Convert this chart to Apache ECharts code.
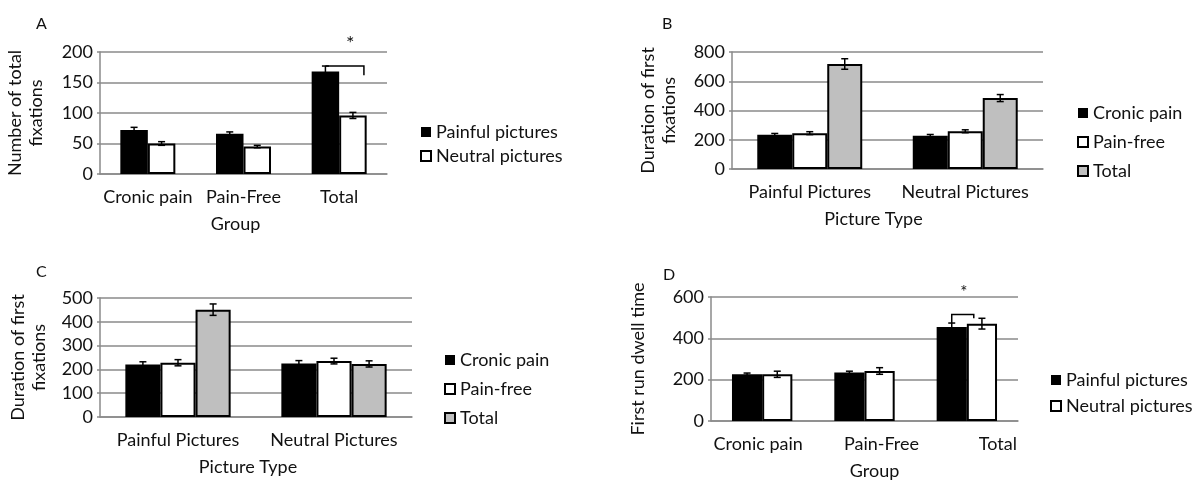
<!DOCTYPE html>
<html>
<head>
<meta charset="utf-8">
<script src="https://cdn.jsdelivr.net/npm/echarts/dist/echarts.min.js"></script>
<style>
  html, body { margin: 0; padding: 0; background: #fff; }
  #main { width: 1204px; height: 481px; }
</style>
</head>
<body>
<div id="main"></div>
<script>
// categories
var groupCats = ['Cronic pain', 'Pain-Free', 'Total'];
var pictureCats = ['Painful Pictures', 'Neutral Pictures'];

// A - number of total fixations
var aPainful = [72, 66, 168];
var aPainfulErr = [4.5, 3, 9];
var aNeutral = [50, 45, 96];
var aNeutralErr = [3, 2, 5];
var aBracket = [2, 177, 177, 162]; // category, top, left end, right end

// B - duration of first fixations
var bCronic = [235, 228];
var bCronicErr = [8, 8];
var bPainFree = [245, 258];
var bPainFreeErr = [10, 10];
var bTotal = [718, 485];
var bTotalErr = [36, 24];

// C - duration of first fixations
var cCronic = [221, 225];
var cCronicErr = [11, 12];
var cPainFree = [228, 235];
var cPainFreeErr = [13, 12];
var cTotal = [451, 223];
var cTotalErr = [24, 13];

// D - first run dwell time
var dPainful = [226, 235, 455];
var dPainfulErr = [6, 6, 19];
var dNeutral = [226, 242, 471];
var dNeutralErr = [15, 16, 26];
var dBracket = [2, 515, 474, 497];

var FONT = 'Lato';
var TXT = '#111';
var GRID_C = '#8a8a8a';

// bar gap per panel (fraction of category band)
var gaps = [0.425, 0.325, 0.325, 0.41];

var chart = echarts.init(document.getElementById('main'));

function xAxisOf(idx, cats, name, namePad, shifts) {
  var data = cats.map(function (c, i) {
    if (!shifts || !shifts[i]) return c;
    var s = shifts[i];
    return { value: c, textStyle: { padding: s > 0 ? [0, 0, 0, 2 * s] : [0, -2 * s, 0, 0] } };
  });
  return {
    type: 'category', gridIndex: idx, data: data,
    axisLine: { lineStyle: { color: GRID_C, width: 1.5 } },
    axisTick: { length: 5, lineStyle: { color: GRID_C, width: 1.5 } },
    axisLabel: { fontFamily: FONT, fontSize: 18, color: TXT, margin: 14, interval: 0 },
    name: name, nameLocation: 'middle', nameGap: 41,
    nameTextStyle: { fontFamily: FONT, fontSize: 18, color: TXT, padding: namePad }
  };
}

function yAxisOf(idx, max, step, name, gap) {
  return {
    type: 'value', gridIndex: idx, min: 0, max: max, interval: step,
    axisLine: { show: true, lineStyle: { color: GRID_C, width: 1.5 } },
    axisTick: { show: true, length: 3, lineStyle: { color: GRID_C, width: 1.5 } },
    splitLine: { lineStyle: { color: GRID_C, width: 1.5 } },
    axisLabel: { fontFamily: FONT, fontSize: 18, color: TXT, margin: 7 },
    name: name, nameLocation: 'middle', nameGap: gap,
    nameTextStyle: { fontFamily: FONT, fontSize: 18, color: TXT, lineHeight: 21 }
  };
}

function barOf(idx, name, vals, fill) {
  return {
    type: 'bar', name: name, xAxisIndex: idx, yAxisIndex: idx,
    data: vals, barGap: '0%', barCategoryGap: (gaps[idx] * 100) + '%',
    itemStyle: { color: fill, borderColor: '#000', borderWidth: fill === '#000' ? 0 : 2 }
  };
}

// error bars drawn on top of bar k of n
function errOf(idx, vals, errs, k, n) {
  return {
    type: 'custom', xAxisIndex: idx, yAxisIndex: idx, silent: true, z: 5,
    data: vals.map(function (v, i) { return [i, v, errs[i]]; }),
    renderItem: function (params, api) {
      var band = api.size([1, 0])[0];
      var bw = band * (1 - gaps[idx]) / n;
      var c = api.coord([api.value(0), api.value(1)]);
      var x = c[0] - n * bw / 2 + bw * (k + 0.5);
      var hi = api.coord([api.value(0), api.value(1) + api.value(2)])[1];
      var lo = api.coord([api.value(0), api.value(1) - api.value(2)])[1];
      var st = { stroke: '#000', lineWidth: 1.5 };
      return {
        type: 'group', children: [
          { type: 'line', shape: { x1: x, y1: hi, x2: x, y2: lo }, style: st },
          { type: 'line', shape: { x1: x - 3.5, y1: hi, x2: x + 3.5, y2: hi }, style: st },
          { type: 'line', shape: { x1: x - 3.5, y1: lo, x2: x + 3.5, y2: lo }, style: st }
        ]
      };
    }
  };
}

// significance bracket + star; offs = [left, right] in bar widths from bar centres, then star x shift, star size
function bracketOf(idx, br, offs) {
  return {
    type: 'custom', xAxisIndex: idx, yAxisIndex: idx, silent: true, z: 6,
    data: [br],
    renderItem: function (params, api) {
      var band = api.size([1, 0])[0];
      var bw = band * (1 - gaps[idx]) / 2;
      var c = api.coord([api.value(0), api.value(1)]);
      var yL = api.coord([api.value(0), api.value(2)])[1];
      var yR = api.coord([api.value(0), api.value(3)])[1];
      var xL = c[0] - bw / 2 + offs[0] * bw;
      var xR = c[0] + bw / 2 + offs[1] * bw;
      return {
        type: 'group', children: [
          { type: 'polyline', shape: { points: [[xL, yL], [xL, c[1]], [xR, c[1]], [xR, yR]] },
            style: { stroke: '#000', fill: null, lineWidth: 1.5 } },
          { type: 'text', x: c[0] + offs[2], y: c[1] - 22,
            style: { text: '*', fill: TXT, font: offs[3] + 'px ' + FONT, align: 'center', verticalAlign: 'middle' } }
        ]
      };
    }
  };
}

function legendOf(names, left, top, gap) {
  return {
    data: names, orient: 'vertical', left: left, top: top, itemGap: gap,
    icon: 'rect', itemWidth: 10, itemHeight: 10, selectedMode: false,
    textStyle: { fontFamily: FONT, fontSize: 18, color: TXT }
  };
}

var letter = { fontFamily: FONT, fontSize: 16, fontWeight: 'normal', color: TXT };

var option = {
  animation: false,
  title: [
    { text: 'A', left: 31, top: 11, textStyle: letter },
    { text: 'B', left: 657, top: 11, textStyle: letter },
    { text: 'C', left: 31, top: 259, textStyle: letter },
    { text: 'D', left: 658, top: 262, textStyle: letter }
  ],
  legend: [
    legendOf(['Painful pictures', 'Neutral pictures'], 415, 118, 6),
    legendOf(['Cronic pain', 'Pain-free', 'Total'], 1072, 99, 11),
    legendOf(['Cronic pain', 'Pain-free', 'Total'], 439, 346, 11),
    legendOf(['Painful pictures', 'Neutral pictures'], 1045, 366, 8)
  ],
  grid: [
    { left: 100, right: 817, top: 52, bottom: 307 },
    { left: 732, right: 161, top: 52, bottom: 312 },
    { left: 100, right: 792, top: 298, bottom: 64 },
    { left: 711, right: 186, top: 297, bottom: 60 }
  ],
  xAxis: [
    xAxisOf(0, groupCats, 'Group', [0, 16, 0, 0]),
    xAxisOf(1, pictureCats, 'Picture Type', [0, 28, 0, 0]),
    xAxisOf(2, pictureCats, 'Picture Type', [0, 16, 0, 0]),
    xAxisOf(3, groupCats, 'Group', [0, 0, 0, 20], [-4, 17, 31])
  ],
  yAxis: [
    yAxisOf(0, 200, 50, 'Number of total\nfixations', 53),
    yAxisOf(1, 800, 200, 'Duration of first\nfixations', 52),
    yAxisOf(2, 500, 100, 'Duration of first\nfixations', 50),
    yAxisOf(3, 600, 200, 'First run dwell time', 62)
  ],
  series: [
    barOf(0, 'Painful pictures', aPainful, '#000'),
    barOf(0, 'Neutral pictures', aNeutral, '#fff'),
    errOf(0, aPainful, aPainfulErr, 0, 2),
    errOf(0, aNeutral, aNeutralErr, 1, 2),
    bracketOf(0, aBracket, [0, 0.4, 11, 20]),

    barOf(1, 'Cronic pain', bCronic, '#000'),
    barOf(1, 'Pain-free', bPainFree, '#fff'),
    barOf(1, 'Total', bTotal, '#bfbfbf'),
    errOf(1, bCronic, bCronicErr, 0, 3),
    errOf(1, bPainFree, bPainFreeErr, 1, 3),
    errOf(1, bTotal, bTotalErr, 2, 3),

    barOf(2, 'Cronic pain', cCronic, '#000'),
    barOf(2, 'Pain-free', cPainFree, '#fff'),
    barOf(2, 'Total', cTotal, '#bfbfbf'),
    errOf(2, cCronic, cCronicErr, 0, 3),
    errOf(2, cPainFree, cPainFreeErr, 1, 3),
    errOf(2, cTotal, cTotalErr, 2, 3),

    barOf(3, 'Painful pictures', dPainful, '#000'),
    barOf(3, 'Neutral pictures', dNeutral, '#fff'),
    errOf(3, dPainful, dPainfulErr, 0, 2),
    errOf(3, dNeutral, dNeutralErr, 1, 2),
    bracketOf(3, dBracket, [0, -0.27, -3, 17])
  ]
};

chart.setOption(option);
</script>
</body>
</html>
